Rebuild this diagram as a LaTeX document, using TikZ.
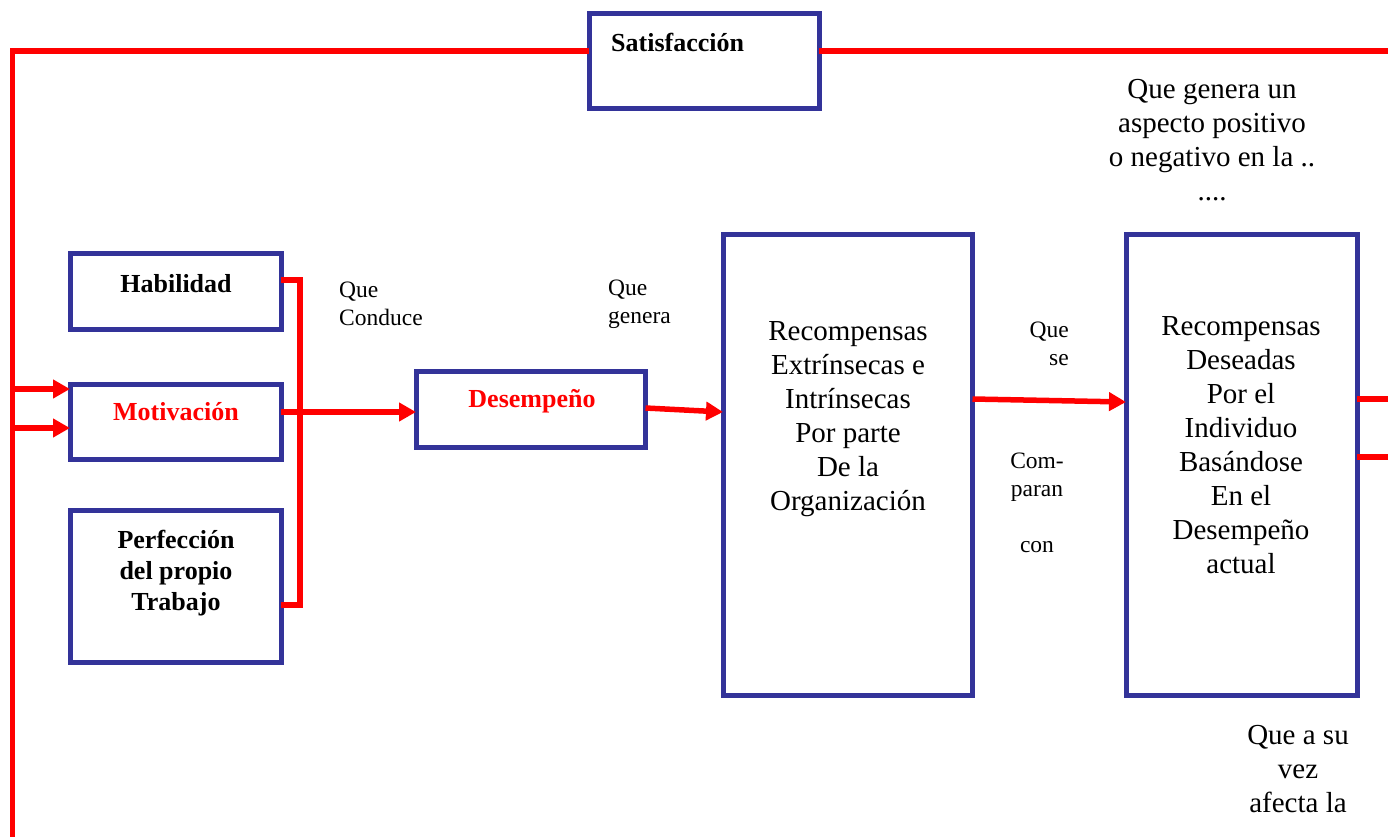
\documentclass[tikz,border=0pt]{standalone}
\usepackage{fontspec}
\setmainfont{Liberation Serif}
\usetikzlibrary{arrows.meta}
\definecolor{bx}{RGB}{51,51,153}
\begin{document}
\begin{tikzpicture}[x=1pt,y=-1pt,
  box/.style={draw=bx,line width=5pt,inner sep=0pt,outer sep=0pt},
  rline/.style={draw=red,line width=5.5pt},
  arr/.style={rline,-{Triangle[length=17pt,width=18pt]}},
  btxt/.style={font=\fontsize{26}{31}\selectfont\bfseries,align=center,inner sep=0pt},
  mtxt/.style={font=\fontsize{29}{34}\selectfont,align=center,inner sep=0pt},
  stxt/.style={font=\fontsize{23.5}{28}\selectfont,inner sep=0pt},
]
\useasboundingbox (0,0) rectangle (1388,837);
% boxes
\node[box,minimum width=230pt,minimum height=95pt] (sat) at (704,61) {};
\node[box,minimum width=211pt,minimum height=76pt] (hab) at (175.5,291) {};
\node[box,minimum width=211pt,minimum height=75pt] (mot) at (175.5,422) {};
\node[box,minimum width=211pt,minimum height=152pt] (perf) at (175.5,586) {};
\node[box,minimum width=229.5pt,minimum height=76.5pt] (des) at (530.75,409.25) {};
\node[box,minimum width=249.5pt,minimum height=461pt] (rec1) at (847.75,464.5) {};
\node[box,minimum width=231pt,minimum height=461pt] (rec2) at (1241.5,464.5) {};
% texts
\node[btxt,anchor=base west] (tsat) at (611,52) {Satisfacción};
\node[btxt] (thab) at (176,284) {Habilidad};
\node[btxt,text=red] (tmot) at (176,412) {Motivación};
\node[btxt] (tperf) at (176,573) {Perfección\\del propio\\Trabajo};
\node[btxt,text=red] (tdes) at (532,401) {Desempeño};
\node[stxt,align=left,anchor=west] (tcond) at (339,304) {Que\\Conduce};
\node[stxt,align=left,anchor=west] (tgen) at (608,304) {Que\\genera};
\node[mtxt] (trec1) at (848,419) {Recompensas\\Extrínsecas e\\Intrínsecas\\Por parte\\De la\\Organización};
\node[stxt,align=right,anchor=east] (tse) at (1069,344) {Que\\se};
\node[stxt,align=center] (tcomp) at (1037,503) {Com-\\paran\\[28pt]con};
\node[mtxt] (trec2) at (1241,445) {Recompensas\\Deseadas\\Por el\\Individuo\\Basándose\\En el\\Desempeño\\actual};
\node[mtxt] (tpos) at (1212,140) {Que genera un\\aspecto positivo\\o negativo en la ..\\....};
\node[mtxt] (tafe) at (1298,769) {Que a su\\vez\\afecta la};
% red lines
\coordinate (tl) at (12.5,51);
\coordinate (bl) at (12.5,845);
\coordinate (tr) at (1395,51);
\coordinate (a1) at (12.5,389);
\coordinate (a2) at (12.5,428);
\coordinate (brt) at (300,280);
\coordinate (brb) at (300,605);
\coordinate (r1) at (1395,399);
\coordinate (r2) at (1395,457);
\draw[rline,line join=miter] (bl) -- (tl) -- (sat.west |- tl);
\draw[rline] (sat.east |- tl) -- (tr);
\draw[arr] (a1) -- (mot.west |- a1);
\draw[arr] (a2) -- (mot.west |- a2);
\draw[rline,line join=miter] (hab.east |- brt) -- (brt) -- (brb) -- (perf.east |- brb);
\draw[arr] (mot.east |- 0,412) -- (des.west |- 0,412);
\draw[arr] (des.east |- 0,408) -- (rec1.west |- 0,412);
\draw[arr] (rec1.east |- 0,399) -- (rec2.west |- 0,402);
\draw[rline] (rec2.east |- r1) -- (r1);
\draw[rline] (rec2.east |- r2) -- (r2);
\end{tikzpicture}
\end{document}
